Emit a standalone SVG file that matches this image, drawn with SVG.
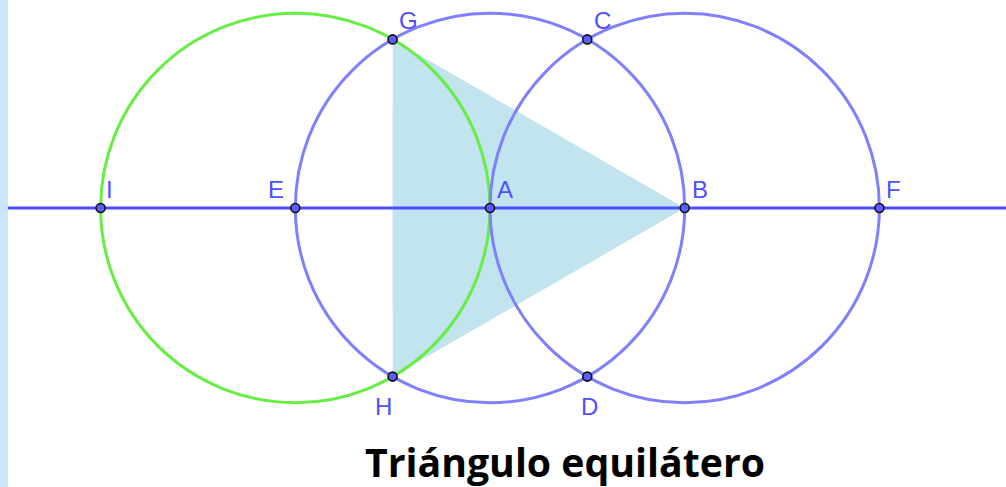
<svg xmlns="http://www.w3.org/2000/svg" width="1006" height="487" viewBox="0 0 1006 487">
<style>
.bc{fill:none;stroke:#8080ff;stroke-width:3}
.gc{fill:none;stroke:#66ee44;stroke-width:3}
.pt{fill:#5c5cff;stroke:#111;stroke-width:1.6}
.lb{font-family:"Liberation Sans",Arial,sans-serif;font-size:24px;fill:#4f4fff}
.title{font-family:"Open Sans","Liberation Sans",sans-serif;font-weight:bold;font-size:39px;fill:#000}
</style>
<rect x="0" y="0" width="1006" height="487" fill="#fff"/>
<rect x="0" y="0" width="8" height="487" fill="#c9e6fd"/>
<g id="triangle"><polygon points="392.6,39.4 392.6,376.6 684.7,208" fill="#c1e4ef"/></g>
<g id="connectors">
<circle class="gc" cx="295.3" cy="208" r="194.7"/>
<circle class="bc" cx="490" cy="208" r="194.7"/>
<circle class="bc" cx="684.7" cy="208" r="194.7"/>
<line x1="8" y1="208" x2="1006" y2="208" stroke="#4c4cff" stroke-width="3"/>
</g>
<g id="I"><circle class="pt" cx="100.6" cy="208" r="4.5"/><text class="lb" x="106" y="198">I</text></g>
<g id="E"><circle class="pt" cx="295.3" cy="208" r="4.5"/><text class="lb" x="268" y="198">E</text></g>
<g id="A"><circle class="pt" cx="490" cy="208" r="4.5"/><text class="lb" x="497" y="198">A</text></g>
<g id="B"><circle class="pt" cx="684.7" cy="208" r="4.5"/><text class="lb" x="692" y="198">B</text></g>
<g id="F"><circle class="pt" cx="879.4" cy="208" r="4.5"/><text class="lb" x="886" y="198">F</text></g>
<g id="G"><circle class="pt" cx="392.6" cy="39.4" r="4.5"/><text class="lb" x="399" y="29">G</text></g>
<g id="C"><circle class="pt" cx="587.3" cy="39.4" r="4.5"/><text class="lb" x="594" y="29">C</text></g>
<g id="H"><circle class="pt" cx="392.6" cy="376.6" r="4.5"/><text class="lb" x="375" y="415">H</text></g>
<g id="D"><circle class="pt" cx="587.3" cy="376.6" r="4.5"/><text class="lb" x="581" y="415">D</text></g>
<g id="title"><text class="title" x="365" y="477" textLength="400" lengthAdjust="spacingAndGlyphs">Triángulo equilátero</text></g>
</svg>
